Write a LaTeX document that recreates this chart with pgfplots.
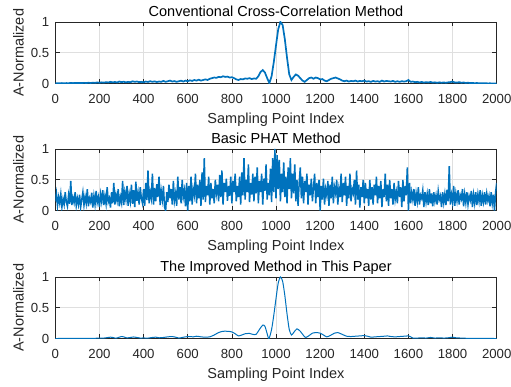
\documentclass[border=0pt]{standalone}
\usepackage{fontspec}
\setmainfont{Liberation Sans}
\usepackage{pgfplots}
\pgfplotsset{compat=1.18}
\definecolor{mblue}{HTML}{0072BD}
\definecolor{axgray}{HTML}{262626}
\definecolor{gridgray}{HTML}{DFDFDF}
\pgfplotsset{
  mystyle/.style={
    width=441.4bp, height=61.8bp, scale only axis,
    xmin=0, xmax=2000, ymin=0, ymax=1,
    xtick={0,200,...,2000}, ytick={0,0.5,1},
    scaled x ticks=false,
    /pgf/number format/1000 sep={},
    /pgf/number format/assume math mode=true,
    grid=major, major grid style={gridgray, line width=0.6bp},
    axis line style={axgray, line width=0.6bp},
    tick style={axgray, line width=0.6bp},
    tick align=inside, major tick length=4.4bp, tick pos=both,
    tick label style={font=\fontsize{13.2bp}{15bp}\selectfont, text=axgray, inner sep=0pt},
    xticklabel style={anchor=base, yshift=-20bp},
    yticklabel style={anchor=east, xshift=-6bp},
    xlabel={Sampling Point Index}, ylabel={A-Normalized},
    label style={font=\fontsize{14.5bp}{16bp}\selectfont, text=axgray, inner sep=0pt},
    xlabel style={at={(axis description cs:0.5,0)}, anchor=base, yshift=-39.6bp},
    ylabel style={at={(axis description cs:-0.0716,0.5)}, anchor=base},
    every axis title shift=0pt,
    title style={font=\fontsize{14.5bp}{16bp}\selectfont, text=black, inner sep=0pt,
      at={(axis description cs:0.5,1)}, anchor=base, yshift=5bp},
    cycle list={{mblue, line width=1.3bp, mark=none, line join=round}},
  }
}
\begin{document}
\begin{tikzpicture}
\path[use as bounding box] (0bp,0bp) rectangle (511bp,387bp);
% ---------------- plot 1
\begin{axis}[mystyle, at={(55.3bp,303.3bp)}, anchor=south west,
  title={Conventional Cross-Correlation Method}]
\addplot+[line width=1.7bp] coordinates {
(0,0.005)(10,0.008)(20,0.006)(30,0.01)(40,0.007)(50,0.01)(60,0.008)(70,0.012)(80,0.009)(90,0.012)
(100,0.01)(110,0.013)(120,0.01)(130,0.014)(140,0.011)(150,0.015)(160,0.012)(170,0.016)(180,0.013)(190,0.02)
(200,0.015)(210,0.022)(220,0.017)(230,0.025)(240,0.02)(250,0.03)(260,0.022)(270,0.028)(280,0.02)(290,0.035)
(300,0.025)(310,0.032)(320,0.022)(330,0.03)(340,0.024)(350,0.038)(360,0.03)(370,0.035)(380,0.025)(390,0.03)
(400,0.022)(410,0.035)(420,0.028)(430,0.04)(440,0.03)(450,0.038)(460,0.027)(470,0.035)(480,0.03)(490,0.045)
(500,0.03)(510,0.04)(520,0.05)(530,0.035)(540,0.042)(550,0.03)(560,0.04)(570,0.048)(580,0.035)(590,0.05)
(600,0.04)(610,0.055)(620,0.045)(630,0.06)(640,0.05)(650,0.065)(660,0.05)(670,0.06)(680,0.07)(690,0.06)
(700,0.08)(710,0.09)(720,0.1)(730,0.095)(740,0.11)(750,0.105)(760,0.12)(770,0.11)(780,0.115)(790,0.1)
(800,0.105)(810,0.09)(820,0.07)(830,0.06)(840,0.075)(850,0.07)(860,0.085)(870,0.08)(880,0.09)(890,0.075)
(900,0.085)(910,0.08)(920,0.12)(930,0.19)(940,0.22)(950,0.18)(960,0.09)(970,0.01)(980,0.12)(990,0.35)
(1000,0.62)(1010,0.88)(1020,1.0)(1030,0.95)(1040,0.72)(1050,0.42)(1060,0.15)(1070,0.06)(1080,0.11)(1090,0.15)
(1100,0.13)(1110,0.09)(1120,0.05)(1130,0.03)(1140,0.06)(1150,0.09)(1160,0.1)(1170,0.08)(1180,0.1)(1190,0.09)
(1200,0.07)(1210,0.075)(1220,0.05)(1230,0.04)(1240,0.06)(1250,0.08)(1260,0.09)(1270,0.1)(1280,0.085)(1290,0.07)
(1300,0.05)(1310,0.04)(1320,0.05)(1330,0.035)(1340,0.045)(1350,0.04)(1360,0.05)(1370,0.035)(1380,0.045)(1390,0.04)
(1400,0.05)(1410,0.035)(1420,0.04)(1430,0.03)(1440,0.045)(1450,0.035)(1460,0.04)(1470,0.03)(1480,0.05)(1490,0.035)
(1500,0.045)(1510,0.04)(1520,0.035)(1530,0.045)(1540,0.03)(1550,0.04)(1560,0.03)(1570,0.04)(1580,0.035)(1590,0.04)
(1600,0.06)(1610,0.03)(1620,0.035)(1630,0.025)(1640,0.03)(1650,0.02)(1660,0.028)(1670,0.018)(1680,0.025)(1690,0.02)
(1700,0.028)(1710,0.018)(1720,0.022)(1730,0.015)(1740,0.022)(1750,0.016)(1760,0.02)(1770,0.015)(1780,0.022)(1790,0.025)
(1800,0.035)(1810,0.02)(1820,0.018)(1830,0.025)(1840,0.015)(1850,0.02)(1860,0.012)(1870,0.016)(1880,0.01)(1890,0.013)
(1900,0.008)(1910,0.011)(1920,0.007)(1930,0.009)(1940,0.006)(1950,0.008)(1960,0.005)(1970,0.006)(1980,0.004)(1990,0.003)
(2000,0.002)
};
\end{axis}
% ---------------- plot 2
\begin{axis}[mystyle, at={(55.3bp,176.3bp)}, anchor=south west,
  title={Basic PHAT Method}]
\addplot+[line width=1.5bp] coordinates {
(0,0.15)(5,0.28)(10,0.08)(15,0.22)(20,0.12)(25,0.27)(30,0.06)(35,0.19)(40,0.1)(45,0.3)(50,0.14)(55,0.07)(60,0.25)(65,0.11)(70,0.48)(75,0.09)(80,0.21)(85,0.13)(90,0.3)(95,0.08)
(100,0.2)(105,0.1)(110,0.26)(115,0.06)(120,0.18)(125,0.3)(130,0.09)(135,0.23)(140,0.12)(145,0.35)(150,0.07)(155,0.2)(160,0.14)(165,0.29)(170,0.05)(175,0.24)(180,0.1)(185,0.32)(190,0.13)(195,0.22)
(200,0.06)(205,0.27)(210,0.15)(215,0.33)(220,0.09)(225,0.24)(230,0.11)(235,0.38)(240,0.14)(245,0.2)(250,0.05)(255,0.3)(260,0.12)(265,0.45)(270,0.1)(275,0.26)(280,0.16)(285,0.35)(290,0.07)(295,0.22)
(300,0.13)(305,0.48)(310,0.09)(315,0.3)(320,0.18)(325,0.4)(330,0.08)(335,0.27)(340,0.15)(345,0.42)(350,0.11)(355,0.33)(360,0.06)(365,0.47)(370,0.16)(375,0.29)(380,0.1)(385,0.38)(390,0.2)(395,0.12)
(400,0.35)(405,0.08)(410,0.45)(415,0.17)(420,0.65)(425,0.12)(430,0.3)(435,0.2)(440,0.6)(445,0.1)(450,0.37)(455,0.15)(460,0.43)(465,0.22)(470,0.55)(475,0.09)(480,0.32)(485,0.18)(490,0.4)(495,0.06)
(500,0.0)(505,0.3)(510,0.14)(515,0.42)(520,0.2)(525,0.35)(530,0.1)(535,0.48)(540,0.16)(545,0.28)(550,0.08)(555,0.55)(560,0.18)(565,0.38)(570,0.12)(575,0.5)(580,0.22)(585,0.33)(590,0.07)(595,0.45)
(600,0.0)(605,0.4)(610,0.15)(615,0.55)(620,0.1)(625,0.35)(630,0.25)(635,0.6)(640,0.12)(645,0.42)(650,0.2)(655,0.5)(660,0.08)(665,0.62)(670,0.18)(675,0.85)(680,0.14)(685,0.4)(690,0.25)(695,0.55)
(700,0.1)(705,0.45)(710,0.2)(715,0.35)(720,0.12)(725,0.5)(730,0.28)(735,0.42)(740,0.15)(745,0.58)(750,0.22)(755,0.65)(760,0.1)(765,0.45)(770,0.3)(775,0.52)(780,0.16)(785,0.4)(790,0.24)(795,0.55)
(800,0.12)(805,0.48)(810,0.3)(815,0.6)(820,0.15)(825,0.4)(830,0.22)(835,0.55)(840,0.1)(845,0.62)(850,0.25)(855,0.85)(860,0.18)(865,0.5)(870,0.3)(875,0.75)(880,0.14)(885,0.45)(890,0.26)(895,0.6)
(900,0.15)(905,0.55)(910,0.28)(915,0.7)(920,0.12)(925,0.48)(930,0.3)(935,0.6)(940,0.1)(945,0.52)(950,0.32)(955,0.75)(960,0.18)(965,0.45)(970,0.25)(975,0.68)(980,0.14)(985,0.85)(990,0.3)(995,1.0)
(1000,0.2)(1005,0.9)(1010,0.35)(1015,0.82)(1020,0.15)(1025,0.6)(1030,0.3)(1035,0.78)(1040,0.22)(1045,0.55)(1050,0.12)(1055,0.7)(1060,0.35)(1065,0.85)(1070,0.2)(1075,0.6)(1080,0.28)(1085,0.75)(1090,0.15)(1095,0.5)
(1100,0.08)(1105,0.45)(1110,0.7)(1115,0.2)(1120,0.55)(1125,0.12)(1130,0.48)(1135,0.3)(1140,0.6)(1145,0.1)(1150,0.42)(1155,0.25)(1160,0.52)(1165,0.15)(1170,0.38)(1175,0.6)(1180,0.12)(1185,0.45)(1190,0.22)(1195,0.5)
(1200,0.0)(1205,0.4)(1210,0.18)(1215,0.52)(1220,0.1)(1225,0.35)(1230,0.25)(1235,0.48)(1240,0.08)(1245,0.42)(1250,0.2)(1255,0.55)(1260,0.12)(1265,0.38)(1270,0.28)(1275,0.5)(1280,0.1)(1285,0.35)(1290,0.22)(1295,0.6)
(1300,0.14)(1305,0.45)(1310,0.25)(1315,0.55)(1320,0.08)(1325,0.4)(1330,0.2)(1335,0.6)(1340,0.15)(1345,0.35)(1350,0.28)(1355,0.5)(1360,0.1)(1365,0.65)(1370,0.18)(1375,0.42)(1380,0.05)(1385,0.38)(1390,0.22)(1395,0.5)
(1400,0.12)(1405,0.45)(1410,0.2)(1415,0.35)(1420,0.08)(1425,0.5)(1430,0.18)(1435,0.38)(1440,0.1)(1445,0.42)(1450,0.25)(1455,0.55)(1460,0.12)(1465,0.4)(1470,0.2)(1475,0.48)(1480,0.06)(1485,0.35)(1490,0.22)(1495,0.6)
(1500,0.15)(1505,0.42)(1510,0.08)(1515,0.5)(1520,0.2)(1525,0.35)(1530,0.1)(1535,0.45)(1540,0.18)(1545,0.3)(1550,0.12)(1555,0.48)(1560,0.22)(1565,0.38)(1570,0.06)(1575,0.5)(1580,0.15)(1585,0.4)(1590,0.25)(1595,0.7)
(1600,0.0)(1605,0.45)(1610,0.12)(1615,0.3)(1620,0.18)(1625,0.35)(1630,0.08)(1635,0.28)(1640,0.15)(1645,0.38)(1650,0.1)(1655,0.25)(1660,0.2)(1665,0.33)(1670,0.06)(1675,0.3)(1680,0.14)(1685,0.27)(1690,0.09)(1695,0.35)
(1700,0.12)(1705,0.28)(1710,0.07)(1715,0.3)(1720,0.15)(1725,0.25)(1730,0.1)(1735,0.32)(1740,0.18)(1745,0.24)(1750,0.06)(1755,0.3)(1760,0.13)(1765,0.27)(1770,0.09)(1775,0.34)(1780,0.15)(1785,0.72)(1790,0.1)(1795,0.26)
(1800,0.14)(1805,0.4)(1810,0.08)(1815,0.28)(1820,0.16)(1825,0.33)(1830,0.1)(1835,0.25)(1840,0.19)(1845,0.35)(1850,0.07)(1855,0.27)(1860,0.13)(1865,0.3)(1870,0.1)(1875,0.24)(1880,0.17)(1885,0.32)(1890,0.06)(1895,0.26)
(1900,0.12)(1905,0.3)(1910,0.09)(1915,0.27)(1920,0.15)(1925,0.33)(1930,0.08)(1935,0.25)(1940,0.14)(1945,0.3)(1950,0.1)(1955,0.28)(1960,0.16)(1965,0.24)(1970,0.07)(1975,0.3)(1980,0.12)(1985,0.26)(1990,0.0)(1995,0.3)
(2000,0.45)
};
\end{axis}
% ---------------- plot 3
\begin{axis}[mystyle, at={(55.3bp,48.3bp)}, anchor=south west,
  title={The Improved Method in This Paper}]
\addplot+[smooth, tension=0.4, line width=1bp] coordinates {
(0,0.003)(50,0.004)(100,0.005)(150,0.006)(200,0.008)(220,0.01)(240,0.02)(250,0.025)(260,0.02)(275,0.008)
(290,0.025)(300,0.035)(310,0.03)(325,0.012)(340,0.02)(355,0.028)(370,0.02)(385,0.01)(400,0.012)(420,0.01)
(440,0.02)(455,0.025)(470,0.015)(490,0.02)(510,0.03)(530,0.035)(550,0.02)(560,0.01)(575,0.02)(590,0.03)
(610,0.035)(625,0.03)(640,0.04)(660,0.03)(680,0.025)(700,0.03)(720,0.06)(740,0.1)(760,0.12)(780,0.12)
(800,0.11)(815,0.08)(830,0.045)(845,0.06)(860,0.08)(880,0.085)(895,0.07)(910,0.07)(925,0.15)(940,0.22)
(950,0.2)(960,0.08)(968,0.0)(980,0.15)(990,0.38)(1000,0.65)(1010,0.9)(1020,1.0)(1030,0.93)(1040,0.7)
(1050,0.4)(1060,0.15)(1070,0.06)(1080,0.1)(1095,0.16)(1110,0.12)(1125,0.05)(1135,0.02)(1150,0.05)(1165,0.09)
(1180,0.1)(1200,0.09)(1215,0.06)(1230,0.03)(1245,0.05)(1265,0.09)(1280,0.1)(1300,0.07)(1320,0.04)(1340,0.035)
(1360,0.04)(1380,0.045)(1400,0.05)(1415,0.04)(1430,0.025)(1450,0.03)(1470,0.035)(1490,0.04)(1505,0.045)(1520,0.035)
(1540,0.03)(1560,0.035)(1580,0.04)(1600,0.045)(1610,0.03)(1620,0.01)(1640,0.01)(1660,0.015)(1680,0.01)(1700,0.02)
(1720,0.01)(1740,0.015)(1760,0.01)(1780,0.015)(1800,0.025)(1815,0.015)(1830,0.012)(1850,0.008)(1900,0.005)(1950,0.004)
(2000,0.003)
};
\end{axis}
\end{tikzpicture}
\end{document}
